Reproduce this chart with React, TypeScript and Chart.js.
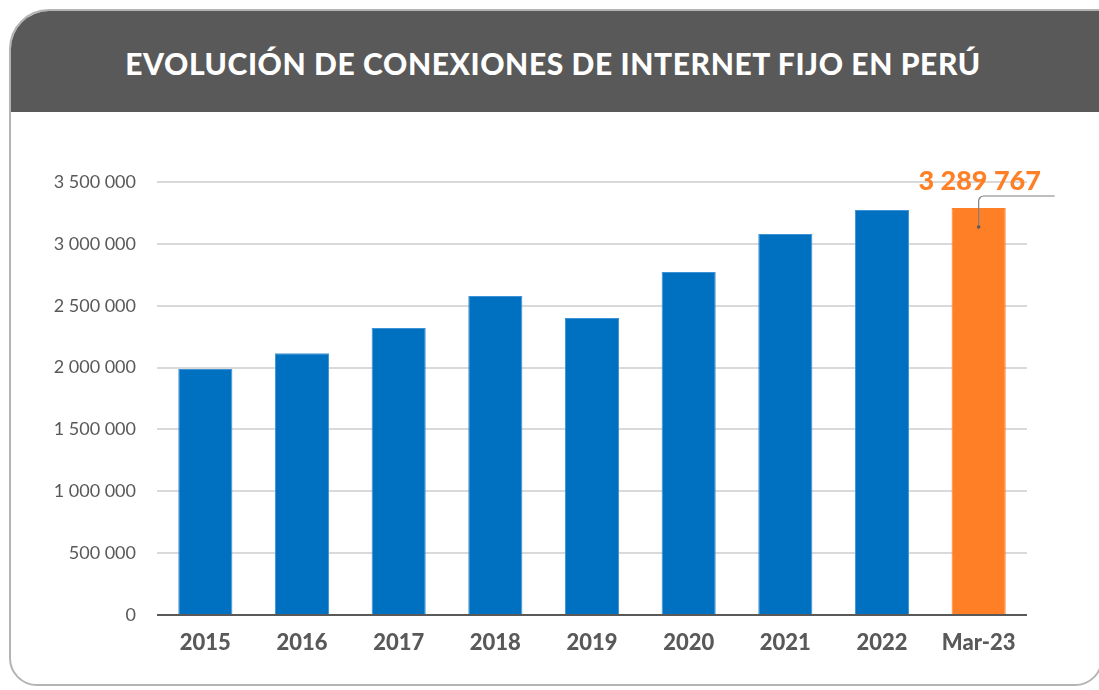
import React, { useEffect, useRef } from "react";
import { Chart, registerables } from "chart.js";

Chart.register(...registerables);

const title = "EVOLUCIÓN DE CONEXIONES DE INTERNET FIJO EN PERÚ";
const categories = ["2015", "2016", "2017", "2018", "2019", "2020", "2021", "2022", "Mar-23"];
const connections = [1988000, 2115000, 2320000, 2578000, 2400000, 2772000, 3080000, 3273000, 3289767];
const barColors = ["#0070C0", "#0070C0", "#0070C0", "#0070C0", "#0070C0", "#0070C0", "#0070C0", "#0070C0", "#FF7F27"];
const highlightIndex = 8;
const yMax = 3500000;
const yStep = 500000;

const fmt = (v: number) => String(Math.round(v)).replace(/\B(?=(\d{3})+(?!\d))/g, " ");

const calloutPlugin = {
  id: "callout",
  afterDatasetsDraw(chart: any) {
    const meta = chart.getDatasetMeta(0);
    const bar = meta.data[highlightIndex];
    if (!bar) return;
    const ctx = chart.ctx;
    const x = bar.x;
    const top = bar.y;
    ctx.save();
    ctx.font = "900 27px Lato";
    ctx.fillStyle = "#FF7F27";
    ctx.textAlign = "center";
    ctx.textBaseline = "middle";
    ctx.fillText(fmt(connections[highlightIndex]), x + 1, top - 27);
    const ly = top - 12;
    const r = 5;
    ctx.strokeStyle = "#7f7f7f";
    ctx.lineWidth = 1.2;
    ctx.beginPath();
    ctx.moveTo(x + 76, ly);
    ctx.lineTo(x + r, ly);
    ctx.arcTo(x, ly, x, ly + r, r);
    ctx.lineTo(x, top + 19);
    ctx.stroke();
    ctx.fillStyle = "#595959";
    ctx.beginPath();
    ctx.arc(x, top + 19, 1.8, 0, Math.PI * 2);
    ctx.fill();
    ctx.restore();
  },
};

export default function App() {
  const ref = useRef<HTMLCanvasElement>(null);
  useEffect(() => {
    if (!ref.current) return;
    const chart = new Chart(ref.current, {
      type: "bar",
      data: {
        labels: categories,
        datasets: [
          {
            data: connections,
            backgroundColor: barColors,
            borderColor: barColors.map((c) => (c === "#0070C0" ? "#3d93d6" : c)),
            borderWidth: 1,
            categoryPercentage: 1,
            barPercentage: 0.56,
          },
        ],
      },
      options: {
        responsive: false,
        animation: false,
        layout: { padding: { left: 0, right: 72, top: 182, bottom: 0 } },
        plugins: { legend: { display: false }, tooltip: { enabled: false }, title: { display: false } },
        scales: {
          x: {
            grid: { display: false, drawTicks: false },
            border: { display: false },
            ticks: { color: "#595959", font: { family: "Lato", size: 22, weight: "900" }, padding: 15 },
            afterFit: (s: any) => { s.height = 75; },
          },
          y: {
            min: 0,
            max: yMax,
            grid: {
              drawTicks: false,
              color: (c: any) => (c.tick && c.tick.value === 0 ? "#595959" : "#d9d9d9"),
              lineWidth: 2,
            },
            border: { display: false },
            ticks: {
              stepSize: yStep,
              color: "#595959",
              font: { family: "Lato", size: 18 },
              padding: 21,
              callback: (v: any) => fmt(Number(v)),
            },
            afterFit: (s: any) => { s.width = 157; },
          },
        },
      },
      plugins: [calloutPlugin],
    });
    return () => chart.destroy();
  }, []);

  return (
    <div style={{ position: "fixed", left: 0, top: 0, width: 1099, height: 690, background: "#fff", overflow: "hidden" }}>
      <div
        style={{
          position: "absolute",
          left: 9,
          top: 9,
          width: 1094,
          height: 677,
          border: "2px solid #b4b4b4",
          borderRadius: "40px 0 28px 28px",
          boxSizing: "border-box",
          overflow: "hidden",
        }}
      >
        <div
          style={{
            position: "absolute",
            left: 0,
            top: 0,
            right: 0,
            height: 101,
            background: "#595959",
          }}
        />
      </div>
      <div
        style={{
          position: "absolute",
          left: 0,
          top: 42,
          width: 1106,
          textAlign: "center",
          color: "#fff",
          fontFamily: "Lato",
          fontWeight: 900,
          fontSize: 30,
          lineHeight: "42px",
          letterSpacing: 0.6,
        }}
      >
        {title}
      </div>
      <canvas ref={ref} width={1099} height={690} style={{ position: "absolute", left: 0, top: 0 }} />
    </div>
  );
}
